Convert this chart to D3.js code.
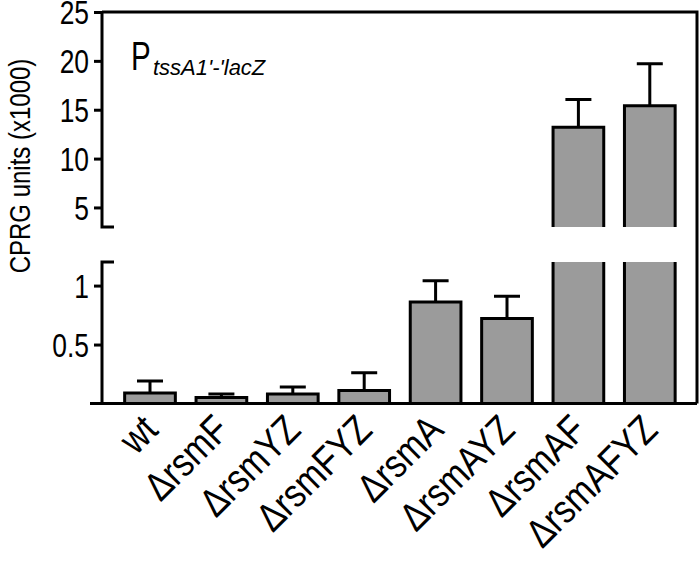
<!DOCTYPE html>
<html>
<head>
<meta charset="utf-8">
<script src="https://cdn.jsdelivr.net/npm/d3@7/dist/d3.min.js"></script>
<style>
html,body{margin:0;padding:0;background:#fff;}
svg{display:block;}
text{font-family:"Liberation Sans",Arial,Helvetica,sans-serif;fill:#000;}
</style>
</head>
<body>
<script>
// ---- data ----
const categories = ["wt", "ΔrsmF", "ΔrsmYZ", "ΔrsmFYZ", "ΔrsmA", "ΔrsmAYZ", "ΔrsmAF", "ΔrsmAFYZ"];
const means      = [0.09, 0.05, 0.08, 0.11, 0.86, 0.72, 13.2, 15.4];
const errors     = [0.10, 0.03, 0.06, 0.15, 0.18, 0.19, 2.85, 4.3];
const lowTicks   = [0.5, 1];
const lowTickLabels = ["0.5", "1"];
const highTicks  = [5, 10, 15, 20, 25];
const highTickLabels = ["5", "10", "15", "20", "25"];
const lowDomain  = [0, 1.2];
const highDomain = [3, 25];
const yTitle = "CPRG units (x1000)";
const panelMain = "P";
const panelSub = "tssA1'-'lacZ";

const W = 700, H = 564;
const axisX = 102, rightX = 697;

const svg = d3.select("body").append("svg").attr("width", W).attr("height", H);

const x = d3.scaleBand().domain(categories).range([114.3, 685.5]).paddingInner(0.29).paddingOuter(0.145);
const yLow = d3.scaleLinear().domain(lowDomain).range([403.5, 262]);
const yHigh = d3.scaleLinear().domain(highDomain).range([227, 12]);

const data = categories.map((c, i) => ({c, m: means[i], e: errors[i]}));
const SW = 3;

// ---- bars ----
const g = svg.append("g");
data.forEach(d => {
  const x0 = x(d.c), x1 = x(d.c) + x.bandwidth();
  const cx = x0 + x.bandwidth() / 2;
  const lowTop = Math.min(d.m, lowDomain[1]);
  const yT = yLow(lowTop), yB = yLow(0);
  g.append("rect").attr("x", x0).attr("y", yT).attr("width", x1 - x0).attr("height", yB - yT)
    .attr("fill", "#9b9b9b");
  if (d.m <= lowDomain[1]) {
    g.append("path").attr("d", `M${x0},${yB}V${yT}H${x1}V${yB}`).attr("fill", "none")
      .attr("stroke", "#000").attr("stroke-width", SW);
    const yE = yLow(d.m + d.e);
    g.append("path").attr("d", `M${cx},${yT}V${yE}M${cx - 13},${yE}H${cx + 13}`)
      .attr("fill", "none").attr("stroke", "#000").attr("stroke-width", SW);
  } else {
    g.append("path").attr("d", `M${x0},${yB}V${yT}M${x1},${yT}V${yB}`).attr("fill", "none")
      .attr("stroke", "#000").attr("stroke-width", SW);
    const yT2 = yHigh(d.m), yB2 = yHigh(highDomain[0]);
    g.append("rect").attr("x", x0).attr("y", yT2).attr("width", x1 - x0).attr("height", yB2 - yT2)
      .attr("fill", "#9b9b9b");
    g.append("path").attr("d", `M${x0},${yB2}V${yT2}H${x1}V${yB2}`).attr("fill", "none")
      .attr("stroke", "#000").attr("stroke-width", SW);
    const yE = yHigh(d.m + d.e);
    g.append("path").attr("d", `M${cx},${yT2}V${yE}M${cx - 13},${yE}H${cx + 13}`)
      .attr("fill", "none").attr("stroke", "#000").attr("stroke-width", SW);
  }
});

// ---- frame ----
svg.append("path").attr("d", `M${axisX},${yHigh(25)}H${rightX}V${yLow(0)}`)
  .attr("fill", "none").attr("stroke", "#000").attr("stroke-width", SW);
svg.append("path").attr("d", `M90,${yLow(0)}H${rightX}`)
  .attr("fill", "none").attr("stroke", "#000").attr("stroke-width", SW);

// ---- y axes ----
function styleAxis(sel) {
  sel.select(".domain").remove();
  sel.selectAll(".tick line").attr("stroke", "#000").attr("stroke-width", SW);
  sel.selectAll(".tick text").attr("font-size", 33).attr("text-anchor", "end")
    .attr("x", null).attr("dy", "0.36em")
    .attr("transform", "translate(-13,0) scale(0.8,1)");
}
const axHigh = svg.append("g").attr("transform", `translate(${axisX},0)`)
  .call(d3.axisLeft(yHigh).tickValues(highTicks).tickFormat((d, i) => highTickLabels[i]).tickSize(8).tickPadding(0));
styleAxis(axHigh);
const axLow = svg.append("g").attr("transform", `translate(${axisX},0)`)
  .call(d3.axisLeft(yLow).tickValues(lowTicks).tickFormat((d, i) => lowTickLabels[i]).tickSize(8).tickPadding(0));
styleAxis(axLow);
svg.append("path").attr("d", `M${axisX},${yHigh(25)}V${yHigh(highDomain[0])}H${axisX + 12}`)
  .attr("fill", "none").attr("stroke", "#000").attr("stroke-width", SW);
svg.append("path").attr("d", `M${axisX + 12},${yLow(lowDomain[1])}H${axisX}V${yLow(0)}`)
  .attr("fill", "none").attr("stroke", "#000").attr("stroke-width", SW);

// ---- y title ----
svg.append("text").attr("transform", `translate(30,166) rotate(-90) scale(0.8,1)`)
  .attr("text-anchor", "middle").attr("font-size", 30).text(yTitle);

// ---- panel label ----
svg.append("text").attr("transform", "translate(131,70) scale(0.72,1)")
  .attr("font-size", 41).text(panelMain);
svg.append("text").attr("x", 153).attr("y", 75)
  .attr("font-size", 22).attr("font-style", "italic").text(panelSub);

// ---- x labels ----
svg.append("g").selectAll("text").data(categories).join("text")
  .attr("transform", d => `translate(${x(d) + x.bandwidth() / 2 + 10},432) rotate(-45) scale(0.85,1)`)
  .attr("text-anchor", "end").attr("font-size", 40).text(d => d);
</script>
</body>
</html>
